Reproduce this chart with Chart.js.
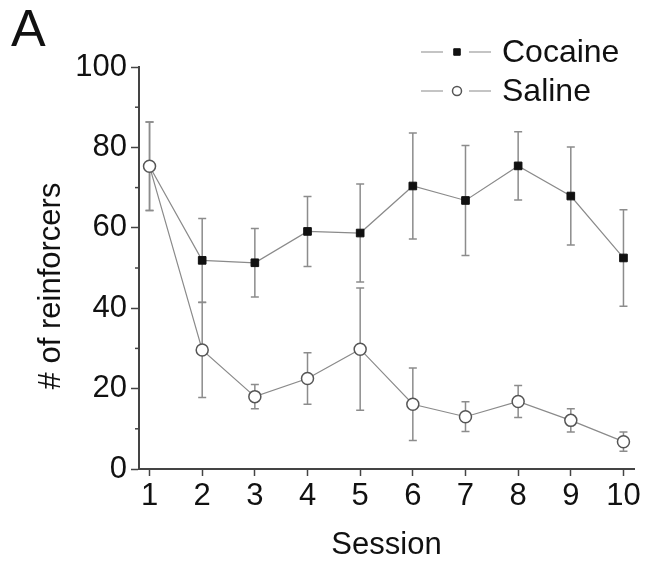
<!DOCTYPE html>
<html>
<head>
<meta charset="utf-8">
<script src="https://cdn.jsdelivr.net/npm/chart.js@4/dist/chart.umd.min.js"></script>
<style>
  html, body { margin: 0; padding: 0; background: #fff; }
</style>
</head>
<body>
<canvas id="chart" width="645" height="567"></canvas>
<script>
// sessions and group means with SEM
const sessions    = [1, 2, 3, 4, 5, 6, 7, 8, 9, 10];
const cocaineMean = [75.3, 51.9, 51.3, 59.1, 58.7, 70.4, 66.8, 75.4, 67.9, 52.5];
const cocaineSem  = [11.0, 10.4, 8.5, 8.7, 12.2, 13.2, 13.7, 8.5, 12.2, 12.0];
const salineMean  = [75.3, 29.6, 18.0, 22.5, 29.8, 16.1, 13.0, 16.8, 12.1, 6.8];
const salineSem   = [11.0, 11.8, 3.0, 6.4, 15.2, 9.0, 3.7, 4.0, 2.9, 2.4];
const yMajorTicks = [0, 20, 40, 60, 80, 100];
const yMinorTicks = [10, 30, 50, 70, 90];

const FONT = "'Liberation Sans', Arial, sans-serif";
const sems = [cocaineSem, salineSem];

// vertical SEM bars with caps, drawn under the markers
const errorBars = {
  id: 'errorBars',
  beforeDatasetsDraw(chart) {
    const { ctx, scales: { y } } = chart;
    ctx.save();
    ctx.strokeStyle = '#8c8c8c';
    ctx.lineWidth = 1.5;
    chart.data.datasets.forEach((ds, i) => {
      chart.getDatasetMeta(i).data.forEach((pt, j) => {
        const m = ds.data[j].y, e = sems[i][j];
        const top = y.getPixelForValue(m + e);
        const bot = y.getPixelForValue(m - e);
        ctx.beginPath();
        ctx.moveTo(pt.x, top); ctx.lineTo(pt.x, bot);
        ctx.moveTo(pt.x - 4, top); ctx.lineTo(pt.x + 4, top);
        ctx.moveTo(pt.x - 4, bot); ctx.lineTo(pt.x + 4, bot);
        ctx.stroke();
      });
    });
    ctx.restore();
  }
};

// short minor ticks on y, panel letter, y title and the legend
const extras = {
  id: 'extras',
  afterDraw(chart) {
    const { ctx, scales: { y } } = chart;
    ctx.save();
    ctx.strokeStyle = '#444';
    ctx.lineWidth = 1.5;
    yMinorTicks.forEach(v => {
      const py = y.getPixelForValue(v);
      ctx.beginPath();
      ctx.moveTo(y.right - 4, py);
      ctx.lineTo(y.right, py);
      ctx.stroke();
    });

    ctx.fillStyle = '#111';
    ctx.font = '52px ' + FONT;
    ctx.textBaseline = 'alphabetic';
    ctx.textAlign = 'left';
    ctx.fillText('A', 11, 46);

    ctx.save();
    ctx.translate(60, 286);
    ctx.rotate(-Math.PI / 2);
    ctx.font = '31px ' + FONT;
    ctx.textAlign = 'center';
    ctx.fillText('# of reinforcers', 0, 0);
    ctx.restore();

    const rows = [52, 91];
    chart.data.datasets.forEach((ds, i) => {
      const ry = rows[i];
      ctx.strokeStyle = ds.borderColor;
      ctx.lineWidth = 1.2;
      ctx.beginPath();
      ctx.moveTo(421, ry); ctx.lineTo(443, ry);
      ctx.moveTo(469, ry); ctx.lineTo(491, ry);
      ctx.stroke();
      ctx.fillStyle = ds.pointBackgroundColor;
      ctx.strokeStyle = ds.pointBorderColor;
      ctx.lineWidth = ds.pointBorderWidth;
      Chart.helpers.drawPoint(ctx, {
        pointStyle: ds.pointStyle,
        radius: i === 0 ? 4.6 : 4.5,
        rotation: 0,
        borderWidth: ds.pointBorderWidth
      }, 457, ry);
      ctx.fillStyle = '#111';
      ctx.font = '32px ' + FONT;
      ctx.textBaseline = 'middle';
      ctx.textAlign = 'left';
      ctx.fillText(ds.label, 502, ry + 1);
    });
    ctx.restore();
  }
};

const axisColor = '#444';

new Chart(document.getElementById('chart'), {
  type: 'line',
  data: {
    datasets: [
      {
        label: 'Cocaine',
        data: sessions.map((s, i) => ({ x: s, y: cocaineMean[i] })),
        borderColor: '#8a8a8a',
        borderWidth: 1.2,
        pointStyle: 'rect',
        pointRadius: 5.4,
        pointBackgroundColor: '#111',
        pointBorderColor: '#111',
        pointBorderWidth: 1,
        order: 1
      },
      {
        label: 'Saline',
        data: sessions.map((s, i) => ({ x: s, y: salineMean[i] })),
        borderColor: '#8a8a8a',
        borderWidth: 1.2,
        pointStyle: 'circle',
        pointRadius: 6,
        pointBackgroundColor: '#fff',
        pointBorderColor: '#555',
        pointBorderWidth: 1.5,
        order: 0
      }
    ]
  },
  options: {
    responsive: false,
    animation: false,
    layout: { padding: { top: 67, right: 11, left: 0, bottom: 0 } },
    plugins: {
      legend: { display: false },
      tooltip: { enabled: false }
    },
    scales: {
      x: {
        type: 'linear',
        min: 0.8,
        max: 10.2,
        afterBuildTicks: scale => { scale.ticks = sessions.map(v => ({ value: v })); },
        afterFit: scale => { scale.height = 98; },
        grid: { drawOnChartArea: false, drawTicks: true, tickLength: 7, tickColor: axisColor, tickWidth: 1.5 },
        border: { color: axisColor, width: 2 },
        ticks: { color: '#111', padding: 2, maxRotation: 0, autoSkip: false, font: { family: FONT, size: 31 } },
        title: {
          display: true,
          text: 'Session',
          color: '#111',
          font: { family: FONT, size: 31 },
          padding: { top: 0, bottom: 3 }
        }
      },
      y: {
        min: 0,
        max: 100,
        afterBuildTicks: scale => { scale.ticks = yMajorTicks.map(v => ({ value: v })); },
        afterFit: scale => { scale.width = 139; },
        grid: { drawOnChartArea: false, drawTicks: true, tickLength: 8, tickColor: axisColor, tickWidth: 1.5 },
        border: { color: axisColor, width: 2 },
        ticks: { color: '#111', padding: 4, font: { family: FONT, size: 31 } }
      }
    }
  },
  plugins: [errorBars, extras]
});
</script>
</body>
</html>
